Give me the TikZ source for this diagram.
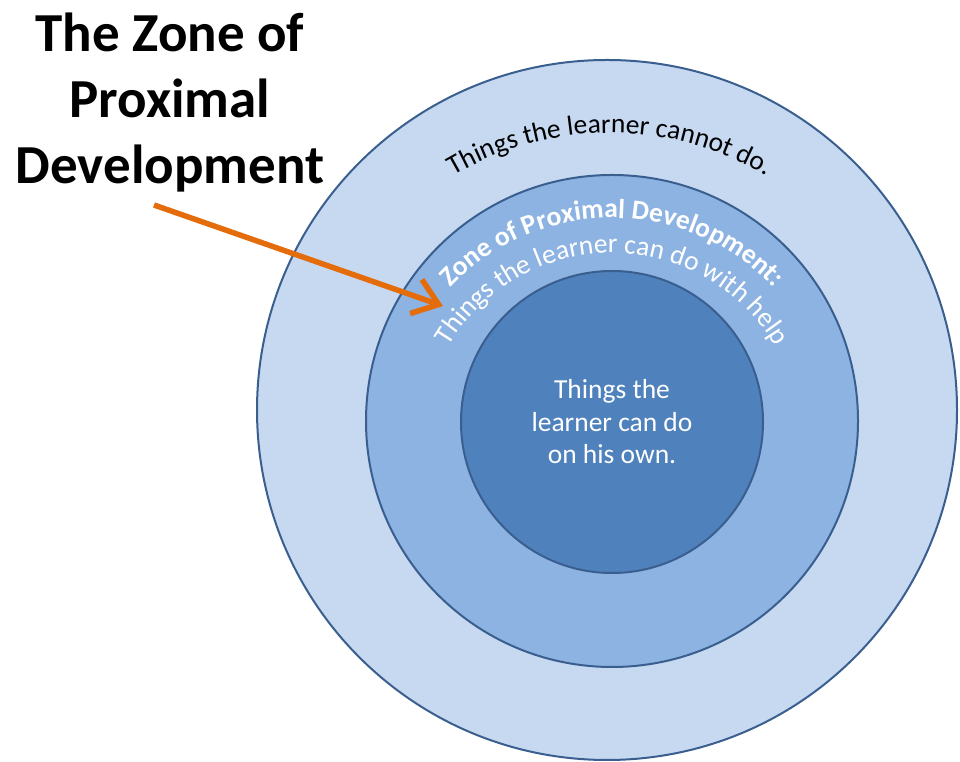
\documentclass[tikz,border=0pt]{standalone}
\usepackage{fontspec}
\setmainfont{Carlito}
\usepackage{xcolor}
\definecolor{ringout}{HTML}{C6D9F1}
\definecolor{ringmid}{HTML}{8DB3E2}
\definecolor{ringin}{HTML}{4F81BD}
\definecolor{ringline}{HTML}{3A5F8E}
\definecolor{arroworange}{HTML}{E46C0A}
\usetikzlibrary{arrows.meta,decorations.text}
\newcommand{\arcfont}{\fontsize{27.5}{30}\selectfont}
\newcommand{\arctext}[5]{
\path[decorate, decoration={text along path, text align=center, text={#5}}]
([shift={(#2:#4)}]#1) arc[start angle=#2, end angle=#3, radius=#4];
}
\tikzset{
ring/.style={circle, draw=ringline, line width=2pt, inner sep=0pt},
zpdarrow/.style={draw=arroworange, line width=5.5pt, -{Straight Barb[length=24pt,width=36pt]}}
}

\begin{document}
\begin{tikzpicture}[x=1pt,y=1pt]
\useasboundingbox (0,0) rectangle (960,762);

\node[ring, fill=ringout, minimum size=700pt] (outer) at (607,352) {};
\node[ring, fill=ringmid, minimum size=492pt] (zpd) at (612,341) {};
\node[ring, fill=ringin, minimum size=302pt, text=white, align=center,
  font=\fontsize{27.5}{32.5}\selectfont] (inner) at (612,340)
  {Things the\\learner can do\\on his own.};

\coordinate (outerarc) at (610,321);
\coordinate (zpdarc) at (612,322);
\coordinate (helparc) at (612,319);
\arctext{outerarc}{150}{30}{308}{|\arcfont|Things the learner cannot do.}
\arctext{zpdarc}{170}{10}{222}{|\arcfont\bfseries\color{white}|Zone of Proximal Development:}
\arctext{helparc}{175}{5}{190}{|\arcfont\color{white}|Things the learner can do with help}

\node[anchor=north, inner sep=0pt, align=center,
  font=\bfseries\fontsize{55}{66}\selectfont] (title) at (170,749)
  {The Zone of\\Proximal\\Development};

\coordinate (arrowtail) at (154,557);
\coordinate (arrowtip) at (443,456);
\draw[zpdarrow] (arrowtail) -- (arrowtip);

\end{tikzpicture}
\end{document}
